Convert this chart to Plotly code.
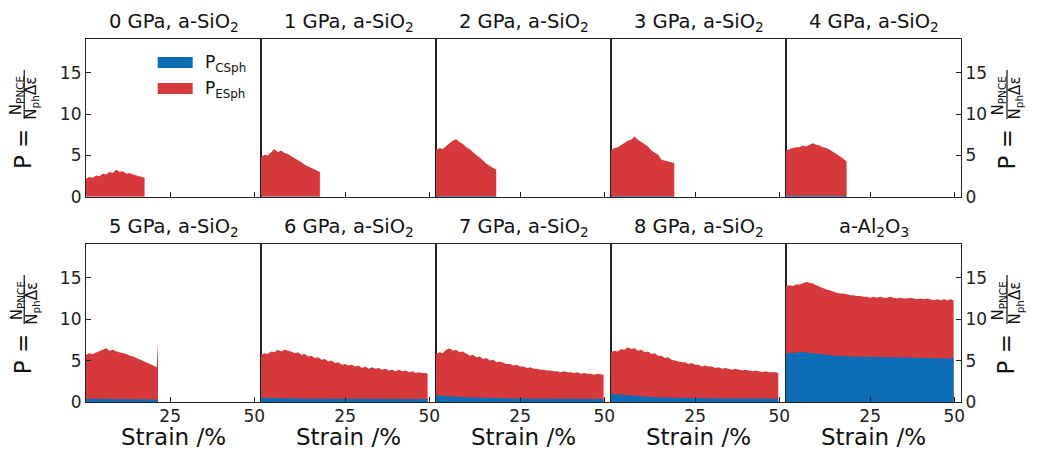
import numpy as np
import plotly.graph_objects as go

# ---------------- data ----------------
PANEL_TITLES = [
    "0 GPa, a-SiO<sub>2</sub>", "1 GPa, a-SiO<sub>2</sub>", "2 GPa, a-SiO<sub>2</sub>",
    "3 GPa, a-SiO<sub>2</sub>", "4 GPa, a-SiO<sub>2</sub>",
    "5 GPa, a-SiO<sub>2</sub>", "6 GPa, a-SiO<sub>2</sub>", "7 GPa, a-SiO<sub>2</sub>",
    "8 GPa, a-SiO<sub>2</sub>", "a-Al<sub>2</sub>O<sub>3</sub>",
]

# final strain (%) reached in each simulation
STRAIN_END = [17.4, 17.5, 17.9, 18.8, 18.0, 21.4, 49.5, 49.8, 49.7, 49.8]

# total P (top of the stacked area, P_CSph + P_ESph), sampled every 1 % strain + final point
P_TOTAL = [
    [2.2, 2.4, 2.3, 2.6, 2.5, 2.8, 2.7, 3.0, 2.9, 3.3, 3.0, 3.1, 2.8, 2.9, 2.7, 2.6, 2.5, 2.4, 2.3],
    [4.8, 5.1, 5.0, 5.4, 5.8, 5.4, 5.6, 5.3, 5.2, 4.9, 4.7, 4.4, 4.2, 3.9, 3.7, 3.5, 3.3, 3.1, 3.0],
    [5.6, 5.9, 5.8, 6.2, 6.5, 6.8, 7.0, 6.6, 6.4, 6.0, 5.8, 5.4, 5.1, 4.8, 4.4, 4.0, 3.8, 3.5, 3.3],
    [5.6, 5.9, 6.0, 6.3, 6.5, 6.8, 6.9, 7.3, 6.9, 6.6, 6.3, 6.1, 5.6, 5.3, 5.1, 4.5, 4.4, 4.3, 4.2, 4.1],
    [5.6, 5.8, 5.9, 6.0, 6.0, 6.2, 6.1, 6.3, 6.5, 6.3, 6.2, 6.0, 5.9, 5.7, 5.5, 5.2, 4.9, 4.6, 4.3],
    [5.7, 5.9, 5.8, 6.0, 6.1, 6.3, 6.5, 6.2, 6.3, 6.1, 6.0, 5.9, 5.8, 5.6, 5.5, 5.3, 5.1, 5.0, 4.8, 4.6,
     4.4, 4.2, 7.1],
    [5.7, 5.9, 5.8, 6.1, 6.0, 6.3, 6.1, 6.3, 6.2, 6.1,
     5.9, 6.0, 5.7, 5.8, 5.5, 5.6, 5.3, 5.4, 5.1, 5.2,
     4.9, 5.0, 4.7, 4.8, 4.5, 4.6, 4.4, 4.5, 4.3, 4.4,
     4.1, 4.3, 4.0, 4.2, 4.0, 4.1, 3.9, 4.0, 3.8, 3.9,
     3.7, 3.9, 3.7, 3.8, 3.6, 3.7, 3.5, 3.6, 3.5, 3.5, 3.4],
    [5.8, 6.0, 5.9, 6.3, 6.5, 6.2, 6.3, 6.0, 6.1, 5.8,
     5.6, 5.7, 5.4, 5.5, 5.2, 5.3, 5.0, 5.1, 4.8, 4.9,
     4.7, 4.6, 4.6, 4.4, 4.5, 4.3, 4.3, 4.1, 4.2, 4.0,
     4.0, 3.9, 3.9, 3.8, 3.8, 3.7, 3.7, 3.6, 3.7, 3.6,
     3.6, 3.5, 3.6, 3.4, 3.5, 3.4, 3.4, 3.3, 3.4, 3.3, 3.3],
    [6.0, 6.2, 6.1, 6.4, 6.3, 6.6, 6.4, 6.5, 6.2, 6.3,
     6.0, 6.1, 5.8, 5.9, 5.6, 5.6, 5.3, 5.4, 5.1, 5.0,
     4.9, 4.8, 4.8, 4.6, 4.7, 4.5, 4.5, 4.3, 4.4, 4.3,
     4.3, 4.1, 4.2, 4.0, 4.1, 4.0, 3.9, 4.0, 3.9, 3.8,
     3.9, 3.8, 3.7, 3.8, 3.7, 3.6, 3.7, 3.6, 3.6, 3.6, 3.5],
    [14.0, 14.1, 14.0, 14.2, 14.2, 14.4, 14.5, 14.4, 14.3, 14.1,
     13.9, 13.8, 13.6, 13.5, 13.3, 13.2, 13.1, 13.1, 13.0, 12.9,
     12.9, 12.8, 12.8, 12.7, 12.7, 12.6, 12.7, 12.6, 12.7, 12.6,
     12.6, 12.7, 12.6, 12.5, 12.6, 12.5, 12.5, 12.6, 12.5, 12.4,
     12.5, 12.4, 12.5, 12.4, 12.3, 12.4, 12.3, 12.4, 12.3, 12.4, 12.3],
]

# P_CSph, sampled every 5 % strain + final point
P_CSPH = [
    [0.02, 0.02, 0.02, 0.02, 0.02],
    [0.04, 0.04, 0.04, 0.04, 0.04],
    [0.10, 0.10, 0.10, 0.10, 0.10],
    [0.12, 0.12, 0.12, 0.12, 0.12],
    [0.15, 0.15, 0.15, 0.15, 0.15],
    [0.40, 0.38, 0.35, 0.33, 0.32, 0.30],
    [0.50, 0.45, 0.42, 0.40, 0.40, 0.38, 0.37, 0.36, 0.35, 0.35, 0.35],
    [0.80, 0.65, 0.55, 0.50, 0.45, 0.42, 0.40, 0.40, 0.38, 0.37, 0.36],
    [1.00, 0.80, 0.65, 0.55, 0.50, 0.47, 0.45, 0.43, 0.42, 0.40, 0.40],
    [5.90, 6.05, 5.80, 5.60, 5.50, 5.45, 5.40, 5.35, 5.30, 5.30, 5.25],
]

BLUE = "#0b6eb4"
RED = "#d6393b"
FONT = "DejaVu Sans"

# page body margin of the html page shifts the figure by 8 px
OFF = 8
W, H = 1037 - OFF, 450 - OFF
# plot area in screen pixels
X_LEFT, X_RIGHT = 86.3, 961.5
Y_TOP, Y_BOT = 39.0, 402.3
ML = X_LEFT - OFF
MR = W - (X_RIGHT - OFF)
MT = Y_TOP - OFF
MB = H - (Y_BOT - OFF)
PW = X_RIGHT - X_LEFT
PH = Y_BOT - Y_TOP


def grid(end, step):
    g = list(np.arange(0, np.floor(end / step) * step + 1e-9, step))
    if end - g[-1] > 1e-6:
        g.append(end)
    return np.array(g, dtype=float)


def px(x):
    return (x - X_LEFT) / PW


def py(y):
    return (Y_BOT - y) / PH


fig = go.Figure()
layout = {}
row_dom = [[py(197), 1.0], [0.0, py(244)]]
COLW = PW / 5

for i in range(10):
    r, c = divmod(i, 5)
    xs_t = grid(STRAIN_END[i], 1.0)
    xs_b = grid(STRAIN_END[i], 5.0)
    assert len(xs_t) == len(P_TOTAL[i]), (i, len(xs_t), len(P_TOTAL[i]))
    assert len(xs_b) == len(P_CSPH[i]), (i, len(xs_b), len(P_CSPH[i]))
    xa = "x" if i == 0 else f"x{i+1}"
    ya = "y" if i == 0 else f"y{i+1}"
    fig.add_trace(go.Scatter(x=xs_t, y=P_TOTAL[i], mode="lines", line=dict(width=0),
                             fill="tozeroy", fillcolor=RED, xaxis=xa, yaxis=ya,
                             showlegend=False, hoverinfo="skip"))
    fig.add_trace(go.Scatter(x=xs_b, y=P_CSPH[i], mode="lines", line=dict(width=0),
                             fill="tozeroy", fillcolor=BLUE, xaxis=xa, yaxis=ya,
                             showlegend=False, hoverinfo="skip"))
    xname = "xaxis" if i == 0 else f"xaxis{i+1}"
    yname = "yaxis" if i == 0 else f"yaxis{i+1}"
    layout[xname] = dict(domain=[c * 0.2, (c + 1) * 0.2], anchor=ya, range=[0, 52],
                         tickvals=[25, 50], ticks="inside", ticklen=5, tickwidth=1,
                         tickcolor="#222", showticklabels=(r == 1), showline=True,
                         mirror=True, linecolor="#222", linewidth=1.2, showgrid=False,
                         zeroline=False, ticklabelstandoff=-2,
                         tickfont=dict(family=FONT, size=17, color="#222"))
    ydict = dict(domain=row_dom[r], anchor=xa, range=[0, 19.1], tickvals=[0, 5, 10, 15],
                 showline=True, mirror=True, linecolor="#222", linewidth=1.2,
                 showgrid=False, zeroline=False,
                 tickfont=dict(family=FONT, size=17, color="#222"))
    if c == 0:
        ydict.update(ticks="inside", ticklen=5, tickcolor="#222", showticklabels=True, side="left")
    elif c == 4:
        ydict.update(ticks="inside", ticklen=5, tickcolor="#222", showticklabels=True, side="right")
    else:
        ydict.update(ticks="", showticklabels=False)
    layout[yname] = ydict

annotations = []
shapes = []
for i in range(10):
    r, c = divmod(i, 5)
    cx = X_LEFT + COLW / 2 + COLW * c
    annotations.append(dict(text=PANEL_TITLES[i], x=px(cx), y=py(22 if r == 0 else 228),
                            xref="paper", yref="paper", showarrow=False, xanchor="center",
                            yanchor="middle", font=dict(family=FONT, size=19.5, color="#111")))
    if r == 1:
        annotations.append(dict(text="Strain /%", x=px(cx), y=py(437.5), xref="paper", yref="paper",
                                showarrow=False, xanchor="center", yanchor="middle", borderpad=0,
                                font=dict(family=FONT, size=23, color="#111")))

# y-axis labels (left & right, both rows)
for dy in (0, 205.3):
    for (xp, xn, xb, xd) in ((23.5, 17.5, 24.5, 32), (1007, 999, 1007.5, 1016)):
        annotations.append(dict(text="P =", x=px(xp), y=py(149 + dy), xref="paper", yref="paper",
                                showarrow=False, textangle=-90, xanchor="center", yanchor="middle",
                                font=dict(family=FONT, size=23, color="#111")))
        annotations.append(dict(text="N<sub>PNCE</sub>", x=px(xn), y=py(96 + dy), xref="paper",
                                yref="paper", showarrow=False, textangle=-90, xanchor="center",
                                yanchor="middle", borderpad=0,
                                font=dict(family=FONT, size=15, color="#111")))
        annotations.append(dict(text="N<sub>ph</sub>Δε", x=px(xd), y=py(98 + dy), xref="paper",
                                yref="paper", showarrow=False, textangle=-90, xanchor="center",
                                yanchor="middle", borderpad=0,
                                font=dict(family=FONT, size=15, color="#111")))
        shapes.append(dict(type="line", xref="paper", yref="paper", x0=px(xb), x1=px(xb),
                           y0=py(70 + dy), y1=py(119 + dy), line=dict(color="#111", width=1.2)))

# legend
for (y0, y1, col, lab) in ((57, 68, BLUE, "P<sub>CSph</sub>"), (83, 94, RED, "P<sub>ESph</sub>")):
    shapes.append(dict(type="rect", xref="paper", yref="paper", x0=px(158), x1=px(193),
                       y0=py(y1), y1=py(y0), fillcolor=col, line=dict(width=0)))
    annotations.append(dict(text=lab, x=px(203), y=py((y0 + y1) / 2 + 1), xref="paper",
                            yref="paper", showarrow=False, xanchor="left", yanchor="middle",
                            font=dict(family=FONT, size=17, color="#111")))

fig.update_layout(width=W, height=H, margin=dict(l=ML, r=MR, t=MT, b=MB, pad=0),
                  paper_bgcolor="white", plot_bgcolor="white", showlegend=False,
                  annotations=annotations, shapes=shapes, **layout)
fig.write_html("out.html")
